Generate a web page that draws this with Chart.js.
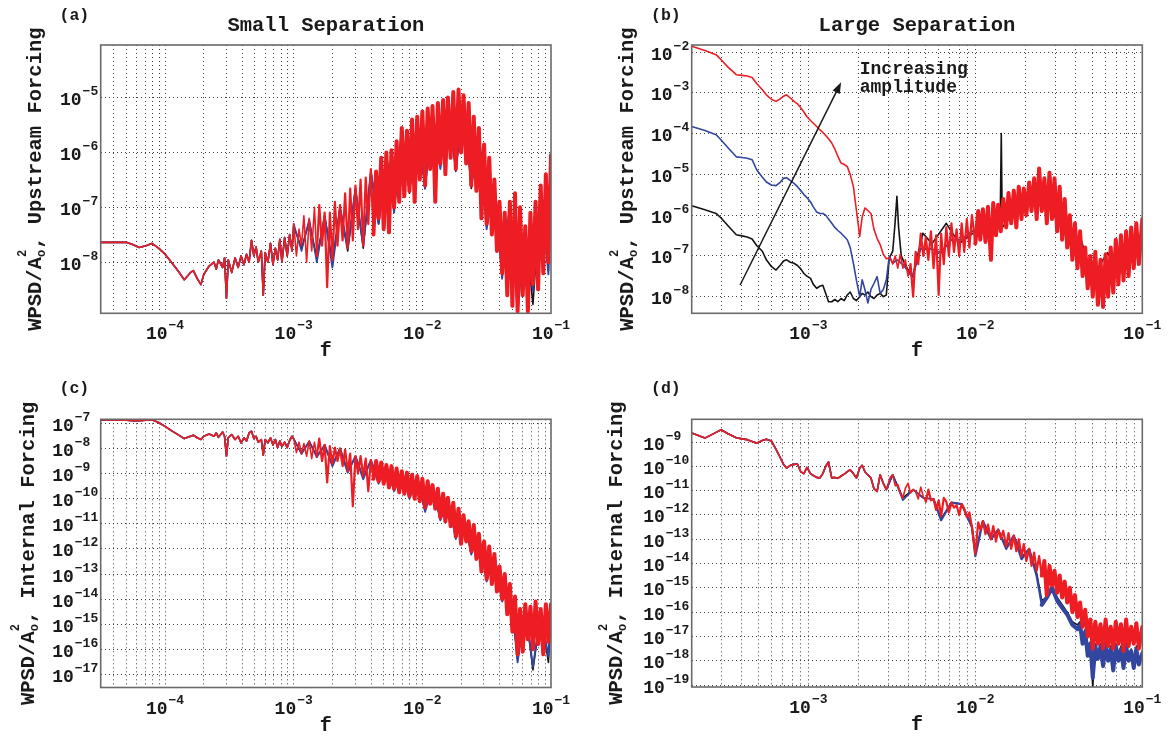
<!DOCTYPE html>
<html>
<head>
<meta charset="utf-8">
<title>WPSD spectra</title>
<script src="https://cdn.jsdelivr.net/npm/chart.js@4.4.1/dist/chart.umd.min.js"></script>
<style>
  html, body { margin: 0; padding: 0; background: #fff; }
  #fig { position: relative; width: 1168px; height: 736px; }
  #fig canvas { position: absolute; }
</style>
</head>
<body>
<div id="fig">
  <canvas id="panelA" width="584" height="368" style="left:0;top:0"></canvas>
  <canvas id="panelB" width="584" height="368" style="left:584px;top:0"></canvas>
  <canvas id="panelC" width="584" height="368" style="left:0;top:368px"></canvas>
  <canvas id="panelD" width="584" height="368" style="left:584px;top:368px"></canvas>
</div>
<script>
// ---------- frequency grids (a) and (c): 3.16e-5 .. 0.1
const fLowSmall = [3.16e-5, 4.0e-5, 5.0e-5, 5.6e-5, 6.3e-5, 7.1e-5, 7.9e-5, 8.9e-5,
  1.0e-4, 1.12e-4, 1.26e-4, 1.41e-4, 1.58e-4, 1.66e-4, 1.78e-4, 1.9e-4,
  2.0e-4, 2.2e-4, 2.4e-4, 2.5e-4, 2.6e-4, 2.8e-4, 2.9e-4, 3.0e-4, 3.1e-4, 3.3e-4, 3.5e-4, 3.7e-4, 3.9e-4,
  4.1e-4, 4.3e-4, 4.5e-4, 4.7e-4, 4.9e-4, 5.1e-4, 5.3e-4, 5.6e-4, 5.8e-4,
  6.0e-4, 6.3e-4, 6.6e-4, 6.9e-4, 7.2e-4, 7.5e-4, 7.8e-4, 8.1e-4, 8.5e-4, 8.9e-4, 9.3e-4, 9.7e-4];

const fHighSmall = [
  1.00e-3, 1.05e-3, 1.10e-3, 1.15e-3, 1.20e-3, 1.26e-3, 1.32e-3, 1.38e-3, 1.45e-3, 1.51e-3,
  1.58e-3, 1.66e-3, 1.74e-3, 1.82e-3, 1.91e-3, 2.00e-3, 2.09e-3, 2.19e-3, 2.29e-3, 2.40e-3,
  2.51e-3, 2.63e-3, 2.75e-3, 2.88e-3, 3.02e-3, 3.16e-3, 3.31e-3, 3.47e-3, 3.63e-3, 3.80e-3,
  3.98e-3, 4.17e-3, 4.37e-3, 4.57e-3, 4.79e-3, 5.01e-3, 5.25e-3, 5.50e-3, 5.75e-3, 6.03e-3,
  6.31e-3, 6.61e-3, 6.92e-3, 7.24e-3, 7.59e-3, 7.94e-3, 8.32e-3, 8.71e-3, 9.12e-3, 9.55e-3,
  1.00e-2, 1.05e-2, 1.10e-2, 1.15e-2, 1.20e-2, 1.26e-2, 1.32e-2, 1.38e-2, 1.45e-2, 1.51e-2,
  1.58e-2, 1.66e-2, 1.74e-2, 1.82e-2, 1.91e-2, 2.00e-2, 2.09e-2, 2.19e-2, 2.29e-2, 2.40e-2,
  2.51e-2, 2.63e-2, 2.75e-2, 2.88e-2, 3.02e-2, 3.16e-2, 3.31e-2, 3.47e-2, 3.63e-2, 3.80e-2,
  3.98e-2, 4.17e-2, 4.37e-2, 4.57e-2, 4.79e-2, 5.01e-2, 5.25e-2, 5.50e-2, 5.75e-2, 6.03e-2,
  6.31e-2, 6.61e-2, 6.92e-2, 7.24e-2, 7.59e-2, 7.94e-2, 8.32e-2, 8.71e-2, 9.12e-2, 9.55e-2,
  1.00e-1];

const fSubSmall = [1.00e-3, 1.15e-3, 1.32e-3, 1.51e-3, 1.74e-3, 2.00e-3, 2.29e-3, 2.63e-3, 3.02e-3, 3.47e-3,
  3.98e-3, 4.57e-3, 5.25e-3, 6.03e-3, 6.92e-3, 7.94e-3, 9.12e-3, 1.05e-2, 1.20e-2, 1.38e-2,
  1.58e-2, 1.82e-2, 2.09e-2, 2.40e-2, 2.75e-2, 3.16e-2, 3.63e-2, 4.17e-2, 4.79e-2, 5.50e-2,
  6.31e-2, 7.24e-2, 8.32e-2, 9.55e-2, 1.00e-1];

// ---------- panel (a): small separation, upstream forcing
const aShared = [2.3e-8, 2.3e-8, 2.3e-8, 2.1e-8, 1.85e-8, 2.0e-8, 2.2e-8, 1.8e-8,
  1.4e-8, 1.0e-8, 7e-9, 4.8e-9, 6.5e-9, 7e-9, 5e-9, 3.9e-9,
  6e-9, 8.5e-9, 1.0e-8, 7.5e-9, 1.1e-8, 8e-9, 1.2e-8, 2.2e-9, 1.1e-8, 6.5e-9, 1.2e-8, 8e-9, 1.3e-8,
  9e-9, 1.4e-8, 1.0e-8, 2.5e-8, 1.3e-8, 1.9e-8, 1.0e-8, 1.6e-8, 2.5e-9,
  1.5e-8, 1.0e-8, 2.2e-8, 9e-9, 1.8e-8, 1.1e-8, 2.6e-8, 1.0e-8, 2.8e-8, 1.3e-8, 3.2e-8, 1.6e-8];

const aRed = [
  5e-8, 1.3e-8, 4e-8, 2e-8, 7e-8, 1e-8, 6.3e-8, 1.6e-8, 1e-7, 1.3e-8,
  1.1e-7, 2e-8, 8e-8, 3.5e-9, 8e-8, 1.1e-8, 1.26e-7, 2e-8, 1.1e-7, 2.5e-8,
  1.8e-7, 1.8e-8, 2.2e-7, 2.5e-8, 2.5e-7, 4e-8, 3.2e-7, 2e-8, 3.5e-7, 5e-8,
  5e-7, 3.2e-8, 4.5e-7, 6.3e-8, 8e-7, 4e-8, 1e-6, 3.5e-8, 1.1e-6, 1e-7,
  1.6e-6, 1.26e-7, 2.8e-6, 1.6e-7, 2.5e-6, 2e-7, 4e-6, 1.26e-7, 4.5e-6, 3.2e-7,
  5.6e-6, 2.5e-7, 6.3e-6, 5e-7, 7e-6, 1.26e-7, 8e-6, 6.3e-7, 9e-6, 4e-7,
  1e-5, 8e-7, 1.26e-5, 5e-7, 1.4e-5, 1e-6, 1.1e-5, 6.3e-7, 8e-6, 2.5e-7,
  4.5e-6, 2e-7, 2.8e-6, 6.3e-8, 1.4e-6, 5e-8, 8e-7, 3.2e-8, 3.2e-7, 1.6e-8,
  1.26e-7, 6.3e-9, 8e-8, 2.5e-9, 1.26e-7, 1.6e-9, 1.8e-7, 1.26e-9, 1e-7, 2.5e-9,
  4.5e-8, 1.26e-9, 8e-8, 4e-9, 1.26e-7, 3.2e-9, 2.5e-7, 6.3e-9, 4e-7, 1e-8,
  9e-7];

const aBlue = [5e-8, 1.6e-8, 6e-8, 1e-8, 7e-8, 8e-9, 1e-7, 1.8e-8, 2.2e-7, 2e-8,
  4.5e-7, 5e-8, 9e-7, 8e-8, 2.5e-6, 2e-7, 4e-6, 2.2e-7, 6e-6, 5e-7,
  9e-6, 5e-7, 1e-5, 2.5e-7, 2.5e-6, 4e-8, 3e-7, 5e-9, 1.1e-7, 1.2e-9,
  4e-8, 3e-9, 2.2e-7, 6e-9, 8e-7];

const aBlack = [4.5e-8, 1.8e-8, 5.5e-8, 1.2e-8, 7e-8, 1e-8, 1e-7, 1.6e-8, 2.2e-7, 1.8e-8,
  4.5e-7, 5e-8, 9e-7, 9e-8, 2.5e-6, 1.8e-7, 4e-6, 2.2e-7, 6e-6, 5.5e-7,
  9e-6, 4.5e-7, 1e-5, 2.2e-7, 2.5e-6, 4.5e-8, 3e-7, 5.5e-9, 1.1e-7, 2e-9,
  4e-8, 1.7e-9, 2.2e-7, 7e-9, 8e-7];

// ---------- panel (c): small separation, internal forcing
const cShared = [1.4e-7, 1.4e-7, 1.35e-7, 1.3e-7, 1.3e-7, 1.35e-7, 1.4e-7, 1.1e-7,
  7.7e-8, 5.2e-8, 3.6e-8, 2.5e-8, 3.1e-8, 3.4e-8, 2.7e-8, 2.3e-8,
  3.1e-8, 3.8e-8, 3.1e-8, 4.2e-8, 2.8e-8, 4.6e-8, 3.1e-8, 5e-9, 2.7e-8, 3.6e-8, 2.3e-8, 3.1e-8, 1.7e-8,
  2.7e-8, 2e-8, 4.2e-8, 4.9e-8, 2.5e-8, 3.1e-8, 1.8e-8, 2.3e-8, 5.5e-9,
  2.3e-8, 1.7e-8, 2.7e-8, 1.4e-8, 2.3e-8, 1.1e-8, 2e-8, 1.2e-8, 1.8e-8, 1.1e-8, 2.1e-8, 3.1e-8];

const cRed = [
  2.5e-8, 7e-9, 1.8e-8, 6.3e-9, 1.6e-8, 5e-9, 2e-8, 4e-9, 1.8e-8, 5e-9,
  2.5e-8, 3.2e-9, 1.4e-8, 4.5e-10, 1.26e-8, 2.5e-9, 1.1e-8, 3.2e-9, 1e-8, 2e-9,
  9e-9, 1.26e-9, 6.3e-9, 5e-11, 5e-9, 1e-9, 5e-9, 8e-10, 4e-9, 2e-10,
  3.5e-9, 6.3e-10, 3.2e-9, 5e-10, 2.8e-9, 4e-10, 2.2e-9, 2.8e-10, 2e-9, 2.5e-10,
  1.6e-9, 1.8e-10, 1.26e-9, 1.6e-10, 1.1e-9, 1.26e-10, 9e-10, 1e-10, 8e-10, 8e-11,
  6.3e-10, 4.5e-11, 5e-10, 6.3e-11, 3.5e-10, 4e-11, 2.5e-10, 1.8e-11, 1.6e-10, 1.26e-11,
  1.1e-10, 8e-12, 7e-11, 3.2e-12, 4e-11, 1.6e-12, 2.2e-11, 2e-12, 1.26e-11, 8e-13,
  9e-12, 4e-13, 4e-12, 1.26e-13, 2e-12, 6.3e-14, 1.26e-12, 4e-14, 6.3e-13, 2e-14,
  2e-13, 1e-14, 1e-13, 2.5e-15, 4e-14, 5e-16, 1.26e-14, 6.3e-17, 4e-15, 8e-17,
  6.3e-15, 2.5e-16, 5e-15, 1e-16, 8e-15, 1.6e-16, 4e-15, 6.3e-17, 6.3e-15, 2e-16,
  6.3e-15];

const cBlue = [2.5e-8, 6e-9, 2e-8, 4.5e-9, 1.4e-8, 2e-9, 1e-8, 1.1e-9, 5e-9, 6e-10,
  3.5e-9, 4e-10, 2.2e-9, 2e-10, 1.2e-9, 1e-10, 8e-10, 3e-11, 3.5e-10, 1.4e-11,
  1.1e-10, 2.5e-12, 2.2e-11, 6e-13, 4e-12, 5e-14, 6e-13, 8e-15, 4e-14, 3e-17,
  5e-15, 2e-17, 3e-15, 5e-17, 5e-15];

const cBlack = [2.4e-8, 6.5e-9, 1.9e-8, 5e-9, 1.3e-8, 2.2e-9, 1e-8, 1.2e-9, 4.8e-9, 7e-10,
  3.4e-9, 4.5e-10, 2.1e-9, 2.2e-10, 1.2e-9, 1.1e-10, 7.5e-10, 3.5e-11, 3.3e-10, 1.5e-11,
  1e-10, 2.8e-12, 2e-11, 7e-13, 3.8e-12, 5.5e-14, 5.8e-13, 9e-15, 3.8e-14, 4e-17,
  4.5e-15, 1.5e-17, 2.8e-15, 3e-17, 4.5e-15];

// ---------- frequency grids (b) and (d): 2e-4 .. 0.1
const fLowLarge = [2.0e-4, 2.4e-4, 2.8e-4, 3.0e-4, 3.3e-4, 3.7e-4, 4.0e-4, 4.3e-4, 4.6e-4, 4.9e-4,
  5.3e-4, 5.6e-4, 6.0e-4, 6.4e-4, 6.8e-4, 7.1e-4, 7.4e-4, 7.8e-4, 8.2e-4, 8.6e-4,
  9.0e-4, 9.4e-4, 9.8e-4, 1.03e-3, 1.07e-3, 1.12e-3, 1.17e-3, 1.22e-3, 1.27e-3, 1.32e-3,
  1.38e-3, 1.44e-3, 1.50e-3, 1.57e-3, 1.64e-3, 1.71e-3, 1.78e-3, 1.86e-3, 1.94e-3, 2.03e-3,
  2.10e-3, 2.18e-3, 2.27e-3, 2.37e-3, 2.47e-3, 2.58e-3, 2.69e-3, 2.81e-3, 2.93e-3];

const fHighLarge = [
  3.09e-3, 3.20e-3, 3.31e-3, 3.43e-3, 3.55e-3, 3.68e-3, 3.81e-3, 3.95e-3, 4.09e-3, 4.24e-3,
  4.39e-3, 4.55e-3, 4.71e-3, 4.88e-3, 5.05e-3, 5.23e-3, 5.42e-3, 5.62e-3, 5.82e-3, 6.03e-3,
  6.24e-3, 6.47e-3, 6.70e-3, 6.94e-3, 7.19e-3, 7.45e-3, 7.72e-3, 8.00e-3, 8.28e-3, 8.58e-3,
  8.89e-3, 9.21e-3, 9.54e-3,
  1.00e-2, 1.04e-2, 1.07e-2, 1.11e-2, 1.15e-2, 1.19e-2, 1.24e-2, 1.28e-2, 1.33e-2, 1.37e-2,
  1.42e-2, 1.47e-2, 1.53e-2, 1.58e-2, 1.64e-2, 1.70e-2, 1.76e-2, 1.82e-2, 1.89e-2, 1.95e-2,
  2.02e-2, 2.10e-2, 2.17e-2, 2.25e-2, 2.33e-2, 2.41e-2, 2.50e-2, 2.59e-2, 2.68e-2, 2.78e-2,
  2.88e-2, 2.98e-2, 3.09e-2, 3.20e-2, 3.31e-2, 3.43e-2, 3.55e-2, 3.68e-2, 3.81e-2, 3.95e-2,
  4.09e-2, 4.24e-2, 4.39e-2, 4.55e-2, 4.71e-2, 4.88e-2, 5.05e-2, 5.23e-2, 5.42e-2, 5.62e-2,
  5.82e-2, 6.03e-2, 6.24e-2, 6.47e-2, 6.70e-2, 6.94e-2, 7.19e-2, 7.45e-2, 7.72e-2, 8.00e-2,
  8.28e-2, 8.58e-2, 8.89e-2, 9.21e-2, 9.54e-2, 1.00e-1];

// ---------- panel (b): large separation, upstream forcing
const bRedLow = [1.4e-2, 1.1e-2, 8.7e-3, 6.5e-3, 4.3e-3, 2.8e-3, 2.7e-3, 2.6e-3, 2.4e-3, 1.7e-3,
  1.2e-3, 9e-4, 7e-4, 6.2e-4, 7.2e-4, 8.3e-4, 9e-4, 7.5e-4, 6.2e-4, 5.4e-4,
  4.3e-4, 3.4e-4, 2.6e-4, 2.1e-4, 1.8e-4, 1.5e-4, 1.25e-4, 1.07e-4, 9e-5, 7.5e-5,
  5.9e-5, 4.2e-5, 2.8e-5, 1.9e-5, 1.75e-5, 1.55e-5, 1.0e-5, 5e-6, 1.3e-6, 3e-7,
  9e-7, 1.5e-6, 1.3e-6, 1.1e-6, 4.5e-7, 2.7e-7, 1.9e-7, 1.1e-7, 8.5e-8];

const bBlueLow = [1.5e-4, 1.2e-4, 9.4e-5, 7e-5, 4.5e-5, 2.7e-5, 2.6e-5, 2.5e-5, 2.3e-5, 1.3e-5,
  8.5e-6, 6.5e-6, 5.5e-6, 5.3e-6, 6.5e-6, 8e-6, 8.3e-6, 7e-6, 6e-6, 5e-6,
  4e-6, 3.2e-6, 2.7e-6, 2.1e-6, 1.6e-6, 1.2e-6, 1.1e-6, 1.1e-6, 1.0e-6, 8e-7,
  6.3e-7, 5e-7, 4.2e-7, 3.6e-7, 3e-7, 2.5e-7, 1.6e-7, 6.6e-8, 2.5e-8, 1e-8,
  2.6e-8, 1.5e-8, 7e-9, 1.5e-8, 2.1e-8, 3.1e-8, 1.2e-8, 1.5e-8, 2.6e-8];

const bBlackLow = [1.7e-6, 1.35e-6, 1.1e-6, 8.5e-7, 5.5e-7, 3.3e-7, 3.1e-7, 2.9e-7, 2.6e-7, 1.8e-7,
  1.3e-7, 8e-8, 5.5e-8, 4.5e-8, 6e-8, 7.5e-8, 8e-8, 7e-8, 6.6e-8, 5.8e-8,
  4.8e-8, 3.7e-8, 3.2e-8, 2.8e-8, 2e-8, 1.6e-8, 1.8e-8, 1.9e-8, 1.2e-8, 7.5e-9,
  7.5e-9, 8.5e-9, 7.5e-9, 9e-9, 8e-9, 1.1e-8, 1.3e-8, 9e-9, 8e-9, 1.0e-8,
  1.2e-8, 1.1e-8, 1.3e-8, 1.0e-8, 9e-9, 1.1e-8, 1.2e-8, 1.0e-8, 1.1e-8];

const bRed = [
  9e-8, 6.3e-8, 1e-7, 5e-8, 1.1e-7, 5e-8, 8e-8, 3.2e-8, 6.3e-8, 1e-8,
  1.26e-7, 6.3e-8, 3.5e-7, 1e-7, 2.8e-7, 8e-8, 4e-7, 5e-8, 3.2e-7, 1.1e-8,
  3.5e-7, 6.3e-8, 5e-7, 1e-7, 6.3e-7, 1.26e-7, 4.5e-7, 1e-7, 6.3e-7, 1.26e-7,
  8e-7, 1.6e-7, 1e-6,
  2e-7, 1.26e-6, 2.5e-7, 1.4e-6, 2.2e-7, 1.6e-6, 8e-8, 2e-6, 3.2e-7, 1.8e-6,
  4e-7, 2.5e-6, 5e-7, 3.5e-6, 6.3e-7, 4e-6, 5e-7, 5e-6, 8e-7, 4.5e-6,
  1e-6, 6.3e-6, 1.26e-6, 8e-6, 8e-7, 1.4e-5, 1.26e-6, 8e-6, 6.3e-7, 1.1e-5,
  8e-7, 8e-6, 4e-7, 5e-6, 2.5e-7, 2.5e-6, 1.6e-7, 1e-6, 8e-8, 6.3e-7,
  5e-8, 4e-7, 3.2e-8, 1.6e-7, 1.6e-8, 1e-7, 1e-8, 1.26e-7, 6.3e-9, 8e-8,
  5.6e-9, 1.1e-7, 1e-8, 1.6e-7, 1.26e-8, 2.5e-7, 2e-8, 3.2e-7, 2.5e-8, 4e-7,
  3.2e-8, 5e-7, 5e-8, 6.3e-7, 6.3e-8,
  8e-7];

const fTailBlueB = [3.05e-3, 3.2e-3, 3.4e-3, 3.7e-3, 4.2e-3, 4.7e-3, 5.4e-3, 6.2e-3, 7.2e-3, 8.3e-3,
  9.5e-3, 1.1e-2, 1.3e-2, 1.5e-2, 1.75e-2, 2e-2, 2.3e-2, 2.7e-2, 3.1e-2, 3.6e-2,
  4.2e-2, 4.9e-2, 5.6e-2, 6.5e-2, 7.5e-2, 8.7e-2, 1e-1];
const bBlueTail = [9.6e-8, 6.6e-8, 8e-8, 6e-8, 3e-8, 1.5e-7, 1.5e-7, 1.2e-7, 2.5e-7, 2.5e-7,
  4e-7, 5e-7, 6e-7, 1e-6, 1.5e-6, 2.5e-6, 2.5e-6, 2e-6, 1e-6, 3e-7,
  8e-8, 3e-8, 2e-8, 3e-8, 6e-8, 1e-7, 1.5e-7];

const fTailBlackB = [3.05e-3, 3.2e-3, 3.3e-3, 3.39e-3, 3.47e-3, 3.6e-3, 3.8e-3, 4.2e-3, 4.85e-3, 5.5e-3,
  6.7e-3, 8e-3, 1e-2, 1.2e-2, 1.41e-2, 1.43e-2, 1.45e-2, 1.7e-2, 2.2e-2, 2.8e-2,
  3.5e-2, 4.3e-2, 5e-2, 6.2e-2, 7e-2, 8.5e-2, 1e-1];
const bBlackTail = [9e-8, 1.3e-7, 6e-7, 2.9e-6, 5e-7, 1e-7, 6e-8, 3e-8, 3.6e-7, 2e-7,
  6.3e-7, 2e-7, 4e-7, 5e-7, 1e-6, 1e-4, 5e-7, 1.2e-6, 2e-6, 1.5e-6,
  3e-7, 2.5e-7, 3e-8, 1.2e-7, 4e-8, 1e-7, 2e-7];

// annotation of panel (b), in data coordinates
const arrowFrom = [3.9e-4, 1.93e-8];
const arrowTo = [1.57e-3, 1.82e-3];
const arrowText = [2.03e-3, 2.95e-3];

// ---------- panel (d): large separation, internal forcing
const dShared = [2.35e-9, 1.45e-9, 2.5e-9, 3.2e-9, 2.2e-9, 1.5e-9, 1.35e-9, 1.25e-9, 1.05e-9, 9e-10,
  1.15e-9, 1.3e-9, 1.1e-9, 5e-10, 2.2e-10, 1.2e-10, 8.5e-11, 1.1e-10, 1.2e-10, 1.25e-10,
  6e-11, 5e-11, 9e-11, 5e-11, 4.2e-11, 3.5e-11, 3.3e-11, 5e-11, 1.0e-10, 1.5e-10,
  3.3e-11, 3.5e-11, 3.2e-11, 4e-11, 4.8e-11, 6e-11, 7.2e-11, 5e-11, 3.3e-11, 8.5e-11,
  1.1e-10, 6e-11, 4.5e-11, 3.3e-11, 1.2e-11, 9.3e-12, 4.5e-11, 2e-11, 1.1e-11];

const dRed = [
  3.5e-11, 4.5e-11, 1.6e-11, 1.8e-11, 8e-12, 5e-12, 1.26e-11, 2e-11, 8e-12, 1.1e-11,
  9e-12, 4.5e-12, 1.4e-11, 5.6e-12, 3.5e-12, 1.1e-11, 4e-12, 4.5e-12, 1.6e-12, 4e-12,
  9e-13, 5e-12, 3.5e-12, 1.26e-12, 3.2e-12, 2e-12, 2.5e-12, 1e-12, 2.8e-12, 1.8e-12,
  8e-13, 1.26e-12, 3.2e-13,
  2.5e-14, 5e-13, 2.5e-13, 5.6e-13, 1.6e-13, 4e-13, 1e-13, 3.5e-13, 8e-14, 2.5e-13,
  1.1e-13, 2.2e-13, 5e-14, 1.8e-13, 4e-14, 1.4e-13, 3.2e-14, 1e-13, 2e-14, 6.3e-14,
  1.26e-14, 4e-14, 8e-15, 2.8e-14, 5e-15, 2e-14, 3.2e-15, 1.26e-14, 5e-16, 8e-15,
  1.26e-15, 5e-15, 6.3e-16, 3.2e-15, 4e-16, 1.8e-15, 2.5e-16, 1e-15, 1e-16, 5e-16,
  6.3e-17, 2.5e-16, 2.5e-17, 1.26e-16, 1e-17, 5e-17, 3.2e-18, 4e-17, 5e-18, 3.2e-17,
  3.2e-18, 5e-17, 4e-18, 2.5e-17, 3.2e-18, 4e-17, 5e-18, 3.2e-17, 2.5e-18, 5e-17,
  4e-18, 2.5e-17, 5e-18, 3.5e-17, 3.2e-18,
  2.5e-17];

const fTailD = [3.20e-3, 3.68e-3, 4.24e-3, 4.88e-3, 5.62e-3, 6.24e-3, 7.19e-3, 8.28e-3, 9.54e-3,
  1.00e-2, 1.11e-2, 1.24e-2, 1.37e-2, 1.53e-2, 1.70e-2, 1.89e-2, 2.10e-2, 2.33e-2, 2.50e-2,
  2.68e-2, 2.88e-2, 3.09e-2, 3.31e-2, 3.55e-2, 3.81e-2,
  4.09e-2, 4.24e-2, 4.39e-2, 4.55e-2, 4.71e-2, 4.88e-2, 5.05e-2, 5.23e-2, 5.42e-2, 5.62e-2,
  5.82e-2, 6.03e-2, 6.24e-2, 6.47e-2, 6.70e-2, 6.94e-2, 7.19e-2, 7.45e-2, 7.72e-2, 8.00e-2,
  8.28e-2, 8.58e-2, 8.89e-2, 9.21e-2, 9.54e-2, 1.00e-1];

const dBlue = [4.5e-11, 4e-12, 1.1e-11, 5e-12, 4.5e-12, 6e-13, 3.2e-12, 2.8e-12, 3.2e-13,
  2e-14, 5.6e-13, 1e-13, 2.5e-13, 4e-14, 1.4e-13, 1.5e-14, 4e-14, 3e-15, 2e-16,
  4e-16, 1e-15, 3e-16, 1.5e-16, 8e-17, 3e-17,
  2e-17, 3e-17, 5e-18, 1.6e-17, 1.6e-18, 5e-18, 2e-19, 4e-18, 1.2e-18, 4e-18,
  6e-19, 5e-18, 1e-18, 3e-18, 4e-19, 4e-18, 1e-18, 3e-18, 5e-19, 4e-18,
  1e-18, 2.5e-18, 5e-19, 3e-18, 7e-19, 2e-18];

const dBlack = [4.5e-11, 5e-12, 1.1e-11, 5e-12, 4.5e-12, 7e-13, 3.2e-12, 2.8e-12, 3.2e-13,
  2.5e-14, 5.6e-13, 1e-13, 2.5e-13, 4.5e-14, 1.4e-13, 1.8e-14, 4e-14, 4e-15, 3e-16,
  4e-16, 1e-15, 4e-16, 2e-16, 1e-16, 4e-17,
  3e-17, 4e-17, 6e-18, 2e-17, 2e-18, 6e-18, 8e-20, 5e-18, 1.5e-18, 5e-18,
  8e-19, 6e-18, 1.2e-18, 4e-18, 5e-19, 5e-18, 1.2e-18, 4e-18, 6e-19, 5e-18,
  1.2e-18, 3e-18, 6e-19, 4e-18, 8e-19, 2.5e-18];

// ---------- axes: grid positions and labelled decades
const xGridSmall = [4e-5, 5e-5, 6e-5, 7e-5, 8e-5, 9e-5, 1e-4, 2e-4, 3e-4, 4e-4, 5e-4, 6e-4, 7e-4, 8e-4, 9e-4,
  1e-3, 2e-3, 3e-3, 4e-3, 5e-3, 6e-3, 7e-3, 8e-3, 9e-3, 1e-2, 2e-2, 3e-2, 4e-2, 5e-2, 6e-2, 7e-2, 8e-2, 9e-2];
const xGridLarge = [3e-4, 4e-4, 5e-4, 6e-4, 7e-4, 8e-4, 9e-4,
  1e-3, 2e-3, 3e-3, 4e-3, 5e-3, 6e-3, 7e-3, 8e-3, 9e-3, 1e-2, 2e-2, 3e-2, 4e-2, 5e-2, 6e-2, 7e-2, 8e-2, 9e-2];
const xLabelsSmall = [1e-4, 1e-3, 1e-2, 1e-1];
const xLabelsLarge = [1e-3, 1e-2, 1e-1];
const yTicksA = [1e-8, 1e-7, 1e-6, 1e-5];
const yTicksB = [1e-8, 1e-7, 1e-6, 1e-5, 1e-4, 1e-3, 1e-2];
const yTicksC = [1e-17, 1e-16, 1e-15, 1e-14, 1e-13, 1e-12, 1e-11, 1e-10, 1e-9, 1e-8, 1e-7];
const yTicksD = [1e-19, 1e-18, 1e-17, 1e-16, 1e-15, 1e-14, 1e-13, 1e-12, 1e-11, 1e-10, 1e-9];

const RED = '#ee1d24';
const BLUE = '#33469f';
const BLACK = '#141414';
const INK = '#1a1a1a';
const FONT = '"Liberation Mono", "Courier New", monospace';

function pts(fs, vs) {
  if (fs.length !== vs.length) console.error('length mismatch', fs.length, vs.length);
  return fs.map((f, i) => ({ x: f, y: vs[i] }));
}

// "10" with a raised exponent
function powText(ctx, v) {
  const n = Math.round(Math.log10(v));
  const exp = (n < 0 ? '\u2212' : '') + Math.abs(n);
  ctx.font = 'bold 18px ' + FONT;
  const wb = ctx.measureText('10').width;
  ctx.font = 'bold 13px ' + FONT;
  const we = ctx.measureText(exp).width;
  return { exp, wb, w: wb + 1 + we };
}
function drawPow(ctx, m, x, y) {
  ctx.font = 'bold 18px ' + FONT;
  ctx.fillText('10', x, y);
  ctx.font = 'bold 13px ' + FONT;
  ctx.fillText(m.exp, x + m.wb + 1, y - 10);
}

function yTitle(ctx, bx, cy, rest) {
  const big = 'bold 20.5px ' + FONT, small = 'bold 12px ' + FONT;
  ctx.save();
  ctx.translate(bx, cy);
  ctx.rotate(-Math.PI / 2);
  ctx.font = big;
  const w1 = ctx.measureText('WPSD/A').width;
  const w3 = ctx.measureText(rest).width;
  ctx.font = small;
  const ws = ctx.measureText('o').width + 1;
  let x = -(w1 + ws + w3) / 2;
  ctx.font = big;
  ctx.fillText('WPSD/A', x, 0);
  x += w1;
  ctx.font = small;
  ctx.fillText('o', x, 4);
  ctx.fillText('2', x, -15);
  x += ws;
  ctx.font = big;
  ctx.fillText(rest, x, 0);
  ctx.restore();
}

const decor = {
  id: 'decor',
  afterDraw(chart, args, o) {
    const { ctx, chartArea: ca } = chart;
    const sx = chart.scales.x, sy = chart.scales.y;
    ctx.save();
    ctx.strokeStyle = '#6a6a6a';
    ctx.lineWidth = 1.6;
    ctx.strokeRect(ca.left, ca.top, ca.right - ca.left, ca.bottom - ca.top);

    ctx.fillStyle = INK;
    ctx.textAlign = 'left';
    ctx.textBaseline = 'alphabetic';
    const ym = o.yLabels.map(v => powText(ctx, v));
    const wMax = Math.max(...ym.map(m => m.w));
    ym.forEach((m, i) => drawPow(ctx, m, ca.left - 2.5 - wMax, sy.getPixelForValue(o.yLabels[i]) + 7.5));
    o.xLabels.forEach(v => {
      const m = powText(ctx, v);
      drawPow(ctx, m, sx.getPixelForValue(v) - m.w / 2, ca.bottom + 26);
    });

    ctx.textAlign = 'center';
    ctx.font = 'bold 20px ' + FONT;
    ctx.fillText('f', (ca.left + ca.right) / 2, ca.bottom + 43);
    if (o.title) {
      ctx.font = 'bold 20.5px ' + FONT;
      ctx.fillText(o.title, (ca.left + ca.right) / 2, 30.5);
    }
    ctx.textAlign = 'left';
    ctx.font = 'bold 16.5px ' + FONT;
    ctx.fillText(o.letter, o.letterAt[0], o.letterAt[1]);
    yTitle(ctx, o.yTitleX, (ca.top + ca.bottom) / 2, o.yTitle);

    if (o.arrow) {
      const a = o.arrow;
      const x0 = sx.getPixelForValue(a.from[0]), y0 = sy.getPixelForValue(a.from[1]);
      const x1 = sx.getPixelForValue(a.to[0]), y1 = sy.getPixelForValue(a.to[1]);
      const ang = Math.atan2(y1 - y0, x1 - x0), L = 11, W = 4;
      const c = Math.cos(ang), s = Math.sin(ang);
      ctx.strokeStyle = INK;
      ctx.lineWidth = 1.5;
      ctx.beginPath();
      ctx.moveTo(x0, y0);
      ctx.lineTo(x1 - L * 0.8 * c, y1 - L * 0.8 * s);
      ctx.stroke();
      ctx.beginPath();
      ctx.moveTo(x1, y1);
      ctx.lineTo(x1 - L * c + W * s, y1 - L * s - W * c);
      ctx.lineTo(x1 - L * c - W * s, y1 - L * s + W * c);
      ctx.closePath();
      ctx.fill();
      ctx.font = 'bold 18px ' + FONT;
      const tx = sx.getPixelForValue(a.textAt[0]), ty = sy.getPixelForValue(a.textAt[1]);
      a.lines.forEach((t, i) => ctx.fillText(t, tx, ty + i * 18));
    }
    ctx.restore();
  }
};

function axis(min, max, grid, size, horizontal) {
  return {
    type: 'logarithmic',
    min, max,
    afterBuildTicks: s => { s.ticks = grid.map(v => ({ value: v })); },
    afterFit: s => { if (horizontal) s.height = size; else s.width = size; },
    ticks: { display: false },
    grid: { color: '#3a3a3a', lineWidth: 1, drawTicks: false },
    border: { display: false, dash: [1, 3] }
  };
}

function panel(id, p) {
  // the noisy high-frequency part is drawn with a heavier pen so it reads as a band
  const band = c => {
    const f = c.p0.parsed.x;
    return f < p.band[0] ? 1.6 : f < p.band[1] ? 2.2 : 4;
  };
  const light = c => (c.p0.parsed.x < p.band[0] ? 1.6 : 1.9);
  const line = (data, color, width) => ({
    data, borderColor: color, borderWidth: 1.6, borderJoinStyle: 'round', borderCapStyle: 'round',
    pointRadius: 0, tension: 0, fill: false, segment: { borderWidth: width }
  });
  new Chart(document.getElementById(id), {
    type: 'line',
    data: { datasets: [
      line(p.red, RED, band),
      line(p.blue, BLUE, p.blueBand ? band : light),
      line(p.black, BLACK, () => 1.6)
    ] },
    options: {
      responsive: false,
      animation: false,
      events: [],
      layout: { padding: { left: 0, top: p.area.top, right: 584 - p.area.right, bottom: 0 } },
      plugins: { legend: { display: false }, tooltip: { enabled: false }, decor: p.decor },
      scales: {
        x: axis(p.xMin, 1e-1, p.xGrid, 368 - p.area.bottom, true),
        y: axis(p.yMin, p.yMax, p.yGrid, p.area.left, false)
      }
    },
    plugins: [decor]
  });
}

panel('panelA', {
  red: pts(fLowSmall, aShared).concat(pts(fHighSmall, aRed)),
  blue: pts(fLowSmall, aShared).concat(pts(fSubSmall, aBlue)),
  black: pts(fLowSmall, aShared).concat(pts(fSubSmall, aBlack)),
  band: [1.5e-3, 4e-3],
  area: { left: 100.7, right: 551, top: 45, bottom: 313.3 },
  xMin: 3.16e-5, xGrid: xGridSmall, yMin: 1.17e-9, yMax: 9.1e-5, yGrid: yTicksA,
  decor: { xLabels: xLabelsSmall, yLabels: yTicksA, title: 'Small Separation', letter: '(a)', letterAt: [59.5, 20],
    yTitle: ', Upstream Forcing', yTitleX: 41 }
});

panel('panelB', {
  red: pts(fLowLarge, bRedLow).concat(pts(fHighLarge, bRed)),
  blue: pts(fLowLarge, bBlueLow).concat(pts(fTailBlueB, bBlueTail)),
  black: pts(fLowLarge, bBlackLow).concat(pts(fTailBlackB, bBlackTail)),
  band: [4e-3, 1e-2],
  area: { left: 107.7, right: 558.3, top: 45, bottom: 313.3 },
  xMin: 2e-4, xGrid: xGridLarge, yMin: 3.9e-9, yMax: 1.5e-2, yGrid: yTicksB,
  decor: { xLabels: xLabelsLarge, yLabels: yTicksB, title: 'Large Separation', letter: '(b)', letterAt: [67, 20],
    yTitle: ', Upstream Forcing', yTitleX: 48.5,
    arrow: { from: arrowFrom, to: arrowTo, textAt: arrowText, lines: ['Increasing', 'amplitude'] } }
});

panel('panelC', {
  red: pts(fLowSmall, cShared).concat(pts(fHighSmall, cRed)),
  blue: pts(fLowSmall, cShared).concat(pts(fSubSmall, cBlue)),
  black: pts(fLowSmall, cShared).concat(pts(fSubSmall, cBlack)),
  band: [1.5e-3, 4e-3],
  area: { left: 100.7, right: 551, top: 51.3, bottom: 319.5 },
  xMin: 3.16e-5, xGrid: xGridSmall, yMin: 3.2e-18, yMax: 1.47e-7, yGrid: yTicksC,
  decor: { xLabels: xLabelsSmall, yLabels: yTicksC, letter: '(c)', letterAt: [59.5, 25],
    yTitle: ', Internal Forcing', yTitleX: 33.5 }
});

panel('panelD', {
  red: pts(fLowLarge, dShared).concat(pts(fHighLarge, dRed)),
  blue: pts(fLowLarge, dShared).concat(pts(fTailD, dBlue)),
  black: pts(fLowLarge, dShared).concat(pts(fTailD, dBlack)),
  band: [5e-3, 2.5e-2],
  blueBand: true,
  area: { left: 107.7, right: 558.3, top: 51.3, bottom: 319 },
  xMin: 2e-4, xGrid: xGridLarge, yMin: 8.3e-20, yMax: 8.6e-9, yGrid: yTicksD,
  decor: { xLabels: xLabelsLarge, yLabels: yTicksD, letter: '(d)', letterAt: [67, 25],
    yTitle: ', Internal Forcing', yTitleX: 37.5 }
});
</script>
</body>
</html>
